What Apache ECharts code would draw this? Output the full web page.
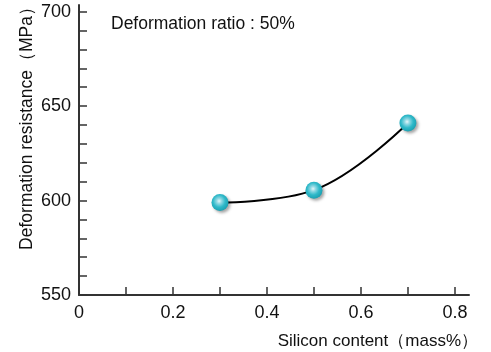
<!DOCTYPE html>
<html><head><meta charset="utf-8">
<script src="https://cdn.jsdelivr.net/npm/echarts@6/dist/echarts.min.js"></script>
<style>html,body{margin:0;padding:0;background:#fff}#c{width:491px;height:352px}</style>
</head><body><div id="c"></div>
<script>
var siliconContent = [0.3, 0.5, 0.7];
var resistance = [599, 605.5, 641];
var xTickLabels = [0, 0.2, 0.4, 0.6, 0.8];
var xTicks = [0, 0.1, 0.2, 0.3, 0.4, 0.5, 0.6, 0.7, 0.8];
var yTickLabels = [550, 600, 650, 700];
var yTicks = [550, 560, 570, 580, 590, 600, 610, 620, 630, 640, 650, 660, 670, 680, 690, 700];
var xTitle = 'Silicon content（mass%）';
var yTitle = 'Deformation resistance（MPa）';
var note = 'Deformation ratio : 50%';

var font = 'Liberation Sans, Arial, Helvetica, sans-serif';
var chart = echarts.init(document.getElementById('c'));
var axisLineStyle = {color: '#333', width: 2};
chart.setOption({
  animation: false,
  grid: {left: 79, right: 22, top: 5, bottom: 57, containLabel: false},
  xAxis: {
    type: 'value', min: 0, max: 0.83,
    axisLine: {show: true, lineStyle: axisLineStyle, onZero: false},
    axisTick: {show: true, inside: true, length: 8, customValues: xTicks, lineStyle: {color: '#333', width: 1.5}},
    axisLabel: {customValues: xTickLabels, color: '#111', fontSize: 18, fontFamily: font, margin: 9,
      formatter: function (v) { return v === 0 ? '0' : v.toFixed(1); }},
    splitLine: {show: false}
  },
  yAxis: {
    type: 'value', min: 550, max: 703.5,
    axisLine: {show: true, lineStyle: axisLineStyle, onZero: false},
    axisTick: {show: true, inside: true, length: 8, customValues: yTicks, lineStyle: {color: '#333', width: 1.5}},
    axisLabel: {customValues: yTickLabels, color: '#111', fontSize: 18, fontFamily: font, margin: 8},
    splitLine: {show: false}
  },
  graphic: [
    {type: 'text', x: 111, y: 24, style: {text: note, fontSize: 17.5, fontFamily: font, fill: '#111', verticalAlign: 'middle'}},
    {type: 'text', x: 478, y: 341, style: {text: xTitle, fontSize: 17, fontFamily: font, fill: '#111', align: 'right', verticalAlign: 'middle'}},
    {type: 'text', x: 27.5, y: 124, rotation: Math.PI / 2, style: {text: yTitle, fontSize: 17.5, fontFamily: font, fill: '#111', align: 'center', verticalAlign: 'middle'}}
  ],
  series: [{
    type: 'line',
    data: siliconContent.map(function (x, i) { return [x, resistance[i]]; }),
    smooth: 0.4,
    lineStyle: {color: '#000', width: 2},
    symbol: 'circle', symbolSize: 17,
    itemStyle: {
      color: {type: 'radial', x: 0.45, y: 0.42, r: 0.6, colorStops: [
        {offset: 0, color: '#e4f6f9'}, {offset: 0.25, color: '#8fd8e3'}, {offset: 0.6, color: '#2fb9c9'}, {offset: 1, color: '#1a9fb0'}]},
      borderWidth: 0,
      shadowColor: 'rgba(0,0,0,0.35)', shadowBlur: 3, shadowOffsetX: 2, shadowOffsetY: 2
    }
  }]
});
</script></body></html>
